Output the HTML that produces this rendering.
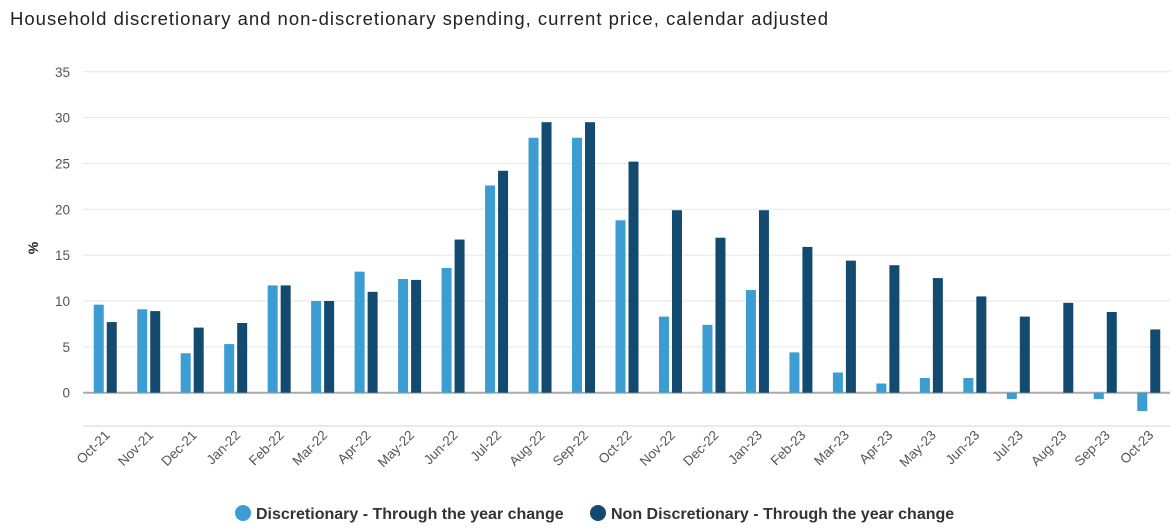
<!DOCTYPE html>
<html><head><meta charset="utf-8"><style>
body{margin:0;background:#fff;font-family:"Liberation Sans",sans-serif;}
</style></head><body>
<svg id="c" width="1171" height="530" xmlns="http://www.w3.org/2000/svg" style="display:block">
<text x="10" y="25" font-size="18.5" fill="#222" textLength="818" lengthAdjust="spacing">Household discretionary and non-discretionary spending, current price, calendar adjusted</text>
<text transform="translate(38,248) rotate(-90)" text-anchor="middle" font-size="14" font-weight="bold" fill="#222">%</text>
<g id="grid"></g><g id="bars"></g><g id="xl"></g>
<g>
<g><circle cx="243" cy="513" r="8" fill="#3c9dd2"/><text x="256" y="519" font-size="16" font-weight="bold" fill="#333">Discretionary - Through the year change</text></g>
<g><circle cx="598" cy="513" r="8" fill="#134a70"/><text x="611" y="519" font-size="16" font-weight="bold" fill="#333">Non Discretionary - Through the year change</text></g>
</g>
</svg>
<script>
const categories=["Oct-21","Nov-21","Dec-21","Jan-22","Feb-22","Mar-22","Apr-22","May-22","Jun-22","Jul-22","Aug-22","Sep-22","Oct-22","Nov-22","Dec-22","Jan-23","Feb-23","Mar-23","Apr-23","May-23","Jun-23","Jul-23","Aug-23","Sep-23","Oct-23"];
const discretionary=[9.6,9.1,4.3,5.3,11.7,10.0,13.2,12.4,13.6,22.6,27.8,27.8,18.8,8.3,7.4,11.2,4.4,2.2,1.0,1.6,1.6,-0.7,0.0,-0.7,-2.0];
const nonDiscretionary=[7.7,8.9,7.1,7.6,11.7,10.0,11.0,12.3,16.7,24.2,29.5,29.5,25.2,19.9,16.9,19.9,15.9,14.4,13.9,12.5,10.5,8.3,9.8,8.8,6.9];
const yTicks=[0,5,10,15,20,25,30,35];
const NS="http://www.w3.org/2000/svg";
const x0=83,x1=1170,step=(x1-x0)/categories.length;
const y=v=>392.7-v*9.17;
const xc=i=>x0+step*(i+0.5);
function mk(t,a,p){const e=document.createElementNS(NS,t);for(const k in a)e.setAttribute(k,a[k]);p.appendChild(e);return e;}
const grid=document.getElementById('grid'),bars=document.getElementById('bars'),xl=document.getElementById('xl');
yTicks.forEach(t=>{
 if(t>0){const l=mk('line',{x1:x0,x2:x1,y1:y(t),y2:y(t),stroke:'#e6e6e6'},grid);
 
 }
 const tx=mk('text',{x:70,y:y(t)+5,'text-anchor':'end','font-size':13.5,fill:'#555'},grid);tx.textContent=t;
 
 
});
const ax=mk('line',{x1:x0,x2:x1,y1:426,y2:426,stroke:'#ccd6eb'},grid);


const zl=mk('line',{x1:x0,x2:x1,y1:392.7,y2:392.7,stroke:'#aaa','stroke-width':2},grid);


categories.forEach((c,i)=>{
 const cx=xc(i);
 [[discretionary[i],'#3c9dd2',cx-11,'bar-discretionary'],[nonDiscretionary[i],'#134a70',cx+2,'bar-non-discretionary']].forEach(([v,col,bx,nm])=>{
  const top=Math.min(y(v),y(0)),h=Math.abs(y(v)-y(0));
  const r=mk('rect',{x:bx,y:top,width:10,height:h,fill:col},bars);
  
  
 });
 const t=mk('text',{transform:`translate(${cx+6},${436}) rotate(-45)`,'text-anchor':'end','font-size':13.5,fill:'#555'},xl);
 t.textContent=c;
 
 
});
</script>
</body></html>
